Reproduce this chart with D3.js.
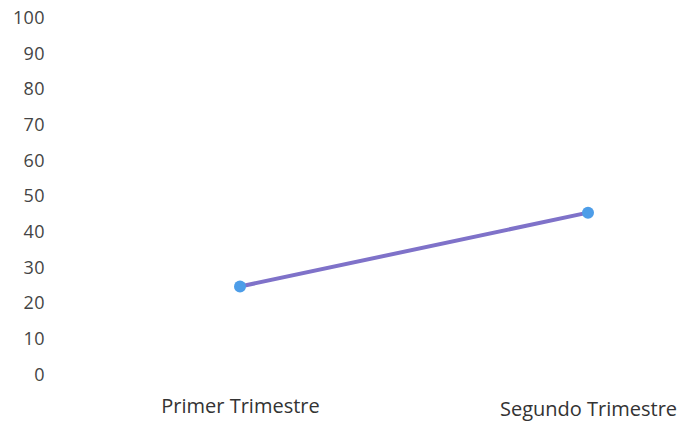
<!DOCTYPE html>
<html><head><meta charset="utf-8">
<script src="https://cdn.jsdelivr.net/npm/d3@7"></script>
<style>body{margin:0;background:#fff}svg{display:block}</style>
</head><body>
<svg id="c" width="681" height="423"></svg>
<script>
const categories = ["Primer Trimestre", "Segundo Trimestre"];
const values = [24.5, 45.2];
const yTicks = [0,10,20,30,40,50,60,70,80,90,100];

const svg = d3.select("#c");
const font = "'Open Sans', 'Liberation Sans', sans-serif";
const y = d3.scaleLinear().domain([0,100]).range([374,17]);
const x = d3.scalePoint().domain(categories).range([240,588]).padding(0);

const yAxis = svg.append("g").attr("transform","translate(45,0)")
  .call(d3.axisLeft(y).tickValues(yTicks).tickSize(0).tickPadding(0));
yAxis.select(".domain").remove();
yAxis.selectAll("text").attr("font-family",font).attr("font-size",18).attr("fill","#444")
  .attr("dy","0.35em").attr("letter-spacing","0.4");

const xAxis = svg.append("g").attr("transform","translate(0,413)")
  .call(d3.axisBottom(x).tickSize(0).tickPadding(0));
xAxis.select(".domain").remove();
xAxis.selectAll("text").attr("font-family",font).attr("font-size",20).attr("fill","#333").attr("dy","0")
  .attr("transform",(d,i)=> i===1 ? "translate(0,3)" : null);

const data = categories.map((c,i)=>({c, v: values[i]}));
svg.append("path").datum(data)
  .attr("fill","none").attr("stroke","#7f72c9").attr("stroke-width",4).attr("stroke-linecap","round")
  .attr("d", d3.line().x(d=>x(d.c)).y(d=>y(d.v)));
svg.selectAll("circle").data(data).join("circle")
  .attr("cx",d=>x(d.c)).attr("cy",d=>y(d.v)).attr("r",6).attr("fill","#4d9de8");
</script>
</body></html>
